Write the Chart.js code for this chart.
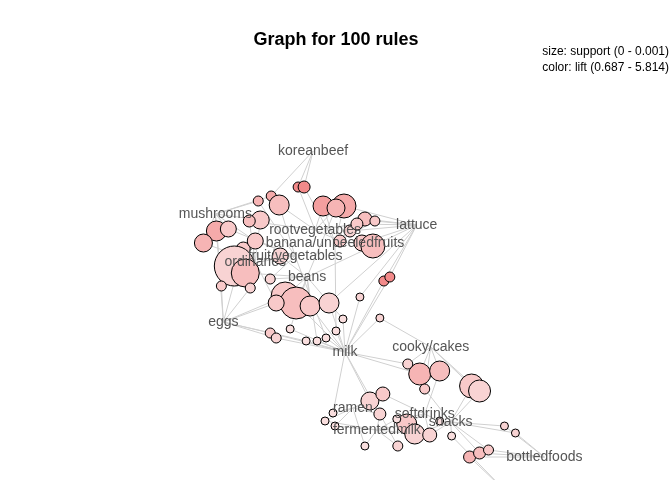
<!DOCTYPE html>
<html><head><meta charset="utf-8">
<script src="https://cdn.jsdelivr.net/npm/chart.js@4"></script>
<style>html,body{margin:0;padding:0;background:#fff}#w{width:672px;height:480px}</style>
</head><body><div id="w"><canvas id="c"></canvas></div>
<script>
const itemLabels=["koreanbeef","mushrooms","rootvegetables","lattuce","banana/unpeeledfruits","fruit/vegetables","ordinaries","beans","eggs","milk","cooky/cakes","ramen","softdrinks","snacks","fermentedmilk","bottledfoods","instantfoods"];
const itemX=[273,175,275,377,295,255,215,267,183,305,391,313,385,411,337,505,466];
const itemY=[110,173,189,184,202,215,221,236,281,311,306,367,373,381,389,416,450];
const ruleX=[258,264,231,218,239,283,304,296,220,176,163,188,209,203,194,205,215,310,322,333,344,350,300,240,245,256,270,289,236,230,236,250,266,277,286,296,303,320,340,380,400,385,368,432,440,330,343,340,367,375,390,358,325,293,285,295,430,440,449,465,476,357,400,412,230,181,210,325,317,335];
const ruleY=[146,146,155,160,164,165,165,167,179,190,202,188,180,208,225,232,200,190,202,205,240,236,200,215,255,262,265,262,262,292,297,288,300,300,297,290,278,256,277,333,330,348,323,345,350,360,353,373,383,393,394,405,405,372,380,385,416,412,409,385,392,378,380,395,238,245,247,178,183,180];
const ruleSupport=[5,6,5,5,10,10,12,9,9,10,9,8,6,7,20,14,8,6,8,12,5,5,6,8,14,16,10,10,8,5,5,4,4,4,4,4,4,4,4,11,10,5,5,12,11,9,7,6,10,10,7,5,4,4,4,4,6,6,5,4,4,4,4,4,5,5,5,7,6,5];
const ruleLift=[.9,.9,.6,.5,.4,.7,.6,.5,.3,.6,.5,.3,.4,.3,.2,.4,.3,.2,.3,.4,.9,.9,.3,.2,.3,.4,.3,.2,.3,.3,.2,.1,.1,.1,.1,.1,.1,.2,.2,.5,.4,.3,.2,.3,.2,.2,.3,.2,.3,.2,.2,.2,.1,.1,.1,.1,.5,.4,.3,.2,.2,.1,.1,.1,.2,.3,.2,.4,.3,.3];
const ruleItems=[[0,2],[0,4],[0,1],[1,5],[2,5],[2,4],[4,3],[2,7],[1,6],[1,8],[1,6],[1,5],[2,6],[6,8],[6,5],[6,7],[5,1],[4,3],[4,3],[3,7],[3,9],[3,9],[2,4],[5,7],[7,8],[7,9],[7,9],[9,3],[8,6],[8,9],[8,9],[9,7],[9,8],[9,7],[9,5],[9,4],[9,7],[9,3],[9,10],[10,9],[10,12],[10,13],[10,9],[10,13],[10,13],[11,9],[11,12],[14,11],[12,14],[13,14],[13,12],[14,9],[14,11],[11,9],[11,14],[11,14],[15,16],[15,13],[15,13],[13,15],[15,13],[12,14],[13,12],[13,16],[7,5],[8,1],[6,8],[3,4],[2,3],[3,4]];
const edgePts=[];
ruleItems.forEach((its,i)=>{its.forEach((k,j)=>{const a={x:itemX[k],y:itemY[k]},b={x:ruleX[i],y:ruleY[i]};if(j===0){edgePts.push(a,b)}else{edgePts.push(b,a)}edgePts.push({x:null,y:null});});});
const col=l=>{const c0=[250,232,232],c1=[242,128,128];return 'rgb('+c0.map((v,i)=>Math.round(v+(c1[i]-v)*l)).join(',')+')';};
const bubbles=ruleX.map((x,i)=>({x,y:ruleY[i],r:ruleSupport[i]}));
const textPlugin={id:'txt',afterDatasetsDraw(ch){const c=ch.ctx,sx=ch.scales.x,sy=ch.scales.y;c.save();c.fillStyle='#555';c.font='14px "Liberation Sans", Arial';c.textAlign='center';c.textBaseline='middle';
itemLabels.forEach((t,i)=>c.fillText(t,sx.getPixelForValue(itemX[i]),sy.getPixelForValue(itemY[i])));
c.fillStyle='#000';c.font='bold 18px "Liberation Sans", Arial';c.fillText('Graph for 100 rules',336,40);
c.font='12px "Liberation Sans", Arial';c.textAlign='right';c.fillText('size: support (0 - 0.001)',669,52);c.fillText('color: lift (0.687 - 5.814)',669,68);c.restore();}};
new Chart(document.getElementById('c'),{data:{datasets:[
{type:'line',data:edgePts,borderColor:'#d0d0d0',borderWidth:1,pointRadius:0,spanGaps:false,order:2,clip:false},
{type:'bubble',data:bubbles,backgroundColor:ruleLift.map(col),borderColor:'#000',borderWidth:1,order:1,clip:false}]},
options:{responsive:true,maintainAspectRatio:false,animation:false,layout:{padding:0},
plugins:{legend:{display:false},tooltip:{enabled:false}},
scales:{x:{type:'linear',min:-20,max:612,display:false},y:{type:'linear',min:-20,max:418,reverse:true,display:false}}},
plugins:[textPlugin]});
</script></body></html>
